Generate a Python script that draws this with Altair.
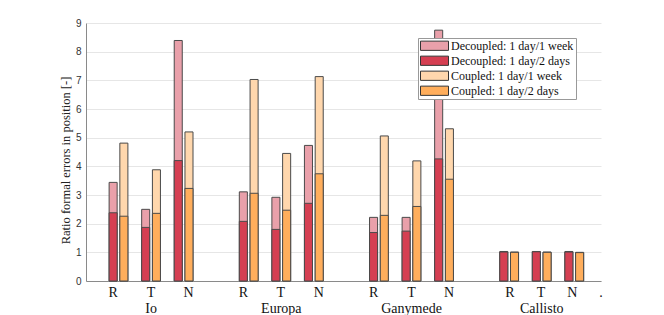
import altair as alt
import pandas as pd

# ---- data ----
moons = ["Io", "Europa", "Ganymede", "Callisto"]
components = ["R", "T", "N"]

decoupled_week = [3.44, 2.50, 8.39, 3.11, 2.92, 4.73, 2.22, 2.22, 8.75, 1.03, 1.03, 1.03]
decoupled_2days = [2.38, 1.87, 4.20, 2.08, 1.80, 2.71, 1.69, 1.74, 4.26, 1.01, 1.02, 1.01]
coupled_week = [4.81, 3.88, 5.20, 7.03, 4.45, 7.13, 5.06, 4.19, 5.31, 1.01, 1.01, 1.00]
coupled_2days = [2.26, 2.36, 3.23, 3.06, 2.47, 3.74, 2.29, 2.60, 3.55, 1.00, 1.00, 0.99]

series_names = [
    "Decoupled: 1 day/1 week",
    "Decoupled: 1 day/2 days",
    "Coupled: 1 day/1 week",
    "Coupled: 1 day/2 days",
]
series_colors = ["#E9A0AA", "#D53F52", "#FFD7AD", "#FFAE5C"]

# tick label positions (in slot units) and texts
tick_positions = [0.834, 2.0, 3.154, 4.834, 5.985, 7.154, 8.834, 10.0, 11.154, 13.02, 13.98, 14.94, 15.82]
tick_labels = ["R", "T", "N"] * 4 + ["."]

SERIF = "'Liberation Serif', 'DejaVu Serif', serif"
SANS = "'Liberation Sans', 'DejaVu Sans', sans-serif"

# ---- build table ----
BAR_W = 0.247
rows = []
# week bars first so the 2-day bars are drawn on top
for name, vals, side in [
    (series_names[0], decoupled_week, "dec"),
    (series_names[2], coupled_week, "cou"),
    (series_names[1], decoupled_2days, "dec"),
    (series_names[3], coupled_2days, "cou"),
]:
    for i, v in enumerate(vals):
        g, c = divmod(i, 3)
        slot = 1 + 4 * g + c
        x0 = slot - 0.29 if side == "dec" else slot + 0.04
        rows.append({"x": x0, "x2": x0 + BAR_W, "value": v, "series": name,
                     "moon": moons[g], "comp": components[c]})
df = pd.DataFrame(rows)

ticks_df = pd.DataFrame({"pos": tick_positions, "label": tick_labels})
moons_df = pd.DataFrame({"pos": [2 + 4 * g for g in range(4)], "label": moons})

W, H = 515, 258
xscale = alt.Scale(domain=[0, 15.82], nice=False, zero=False)

bars = alt.Chart(df).mark_rect(stroke="#4a4a4a", strokeWidth=1).encode(
    x=alt.X("x:Q", scale=xscale,
            axis=alt.Axis(labels=False, ticks=False, grid=False, title=None,
                          domainColor="#8a8a8a", domainWidth=1.2)),
    x2="x2:Q",
    y=alt.Y("value:Q", scale=alt.Scale(domain=[0, 9], nice=False),
            axis=alt.Axis(values=list(range(10)), title="Ratio formal errors in position [-]",
                          ticks=False, labelPadding=5, labelFont=SANS,
                          labelFontSize=10, labelColor="#333", gridColor="#e6e6e6",
                          domainColor="#8a8a8a", titleFont=SERIF,
                          titleFontSize=12.5, titleFontWeight="normal", titleColor="#222",
                          titleX=-21, titleY=137, titleBaseline="middle", titleAngle=-90)),
    y2=alt.datum(0),
    color=alt.Color("series:N",
                    scale=alt.Scale(domain=series_names, range=series_colors),
                    legend=alt.Legend(title=None, orient="none", legendX=332, legendY=15,
                                      symbolType="M-1,-0.33H1V0.33H-1Z", symbolSize=784,
                                      symbolStrokeColor="#333", symbolStrokeWidth=1,
                                      symbolOpacity=1, labelFont=SERIF,
                                      labelFontSize=12, labelColor="#111", labelOffset=2,
                                      clipHeight=11.5, rowPadding=2, padding=2,
                                      fillColor="white", strokeColor="#999")),
)

tick_text = alt.Chart(ticks_df).mark_text(
    font=SERIF, fontSize=14, color="#111", baseline="middle"
).encode(x=alt.X("pos:Q", scale=xscale), y=alt.value(H + 12), text="label:N")

moon_text = alt.Chart(moons_df).mark_text(
    font=SERIF, fontSize=14, color="#111", baseline="middle"
).encode(x=alt.X("pos:Q", scale=xscale), y=alt.value(H + 28), text="label:N")

chart = alt.layer(bars, tick_text, moon_text).properties(
    width=W, height=H,
    autosize=alt.AutoSizeParams(type="none"),
    padding={"left": 78, "top": 15, "right": 55, "bottom": 40},
    background="white",
).configure_view(stroke=None)

chart.save("out.html", embed_options={"renderer": "svg", "actions": False})
